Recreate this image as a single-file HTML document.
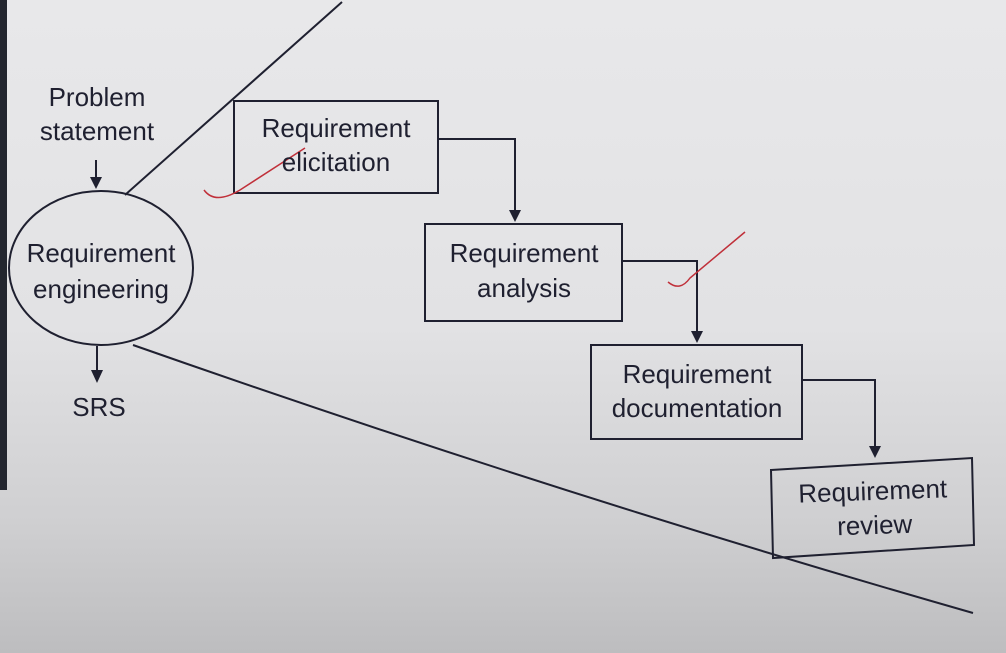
<!DOCTYPE html>
<html><head><style>
html,body{margin:0;padding:0;}
body{width:1006px;height:653px;overflow:hidden;background:linear-gradient(180deg,#e8e8ea 0%,#e2e2e4 50%,#cfcfd1 80%,#bdbdbf 100%);}
svg{position:absolute;left:0;top:0;}
text{font-family:"Liberation Sans",sans-serif;font-size:26px;fill:#1f2030;text-anchor:middle;}
</style></head><body>
<svg width="1006" height="653" viewBox="0 0 1006 653">
<rect x="0" y="0" width="7" height="490" fill="#23262f"/>
<g stroke="#1f2030" stroke-width="2" fill="none">
<line x1="125" y1="195" x2="342" y2="2"/>
<path d="M133 345 Q560 495 973 613"/>
<ellipse cx="101" cy="268" rx="92" ry="77"/>
<rect x="234" y="101" width="204" height="92"/>
<rect x="425" y="224" width="197" height="97"/>
<rect x="591" y="345" width="211" height="94"/>
<polygon points="771,470 972,458 974,545 773,558"/>
<polyline points="438,139 515,139 515,212"/>
<polyline points="622,261 697,261 697,333"/>
<polyline points="802,380 875,380 875,448"/>
<line x1="96" y1="160" x2="96" y2="180"/>
<line x1="97" y1="346" x2="97" y2="372"/>
</g>
<g fill="#1f2030">
<polygon points="509,210 521,210 515,222"/>
<polygon points="691,331 703,331 697,343"/>
<polygon points="869,446 881,446 875,458"/>
<polygon points="90,177 102,177 96,189"/>
<polygon points="91,370 103,370 97,383"/>
</g>
<g stroke="#c0303a" stroke-width="1.5" fill="none">
<path d="M204 190 Q215 205 240 190 L305 148"/>
<path d="M668 282 Q680 292 690 278 L745 232"/>
</g>
<text x="97" y="106">Problem</text>
<text x="97" y="140">statement</text>
<text x="101" y="262">Requirement</text>
<text x="101" y="298">engineering</text>
<text x="99" y="416">SRS</text>
<text x="336" y="137">Requirement</text>
<text x="336" y="171">elicitation</text>
<text x="524" y="262">Requirement</text>
<text x="524" y="297">analysis</text>
<text x="697" y="383">Requirement</text>
<text x="697" y="417">documentation</text>
<text x="873" y="500" transform="rotate(-2 873 500)">Requirement</text>
<text x="875" y="534" transform="rotate(-2 875 534)">review</text>
</svg>
</body></html>
